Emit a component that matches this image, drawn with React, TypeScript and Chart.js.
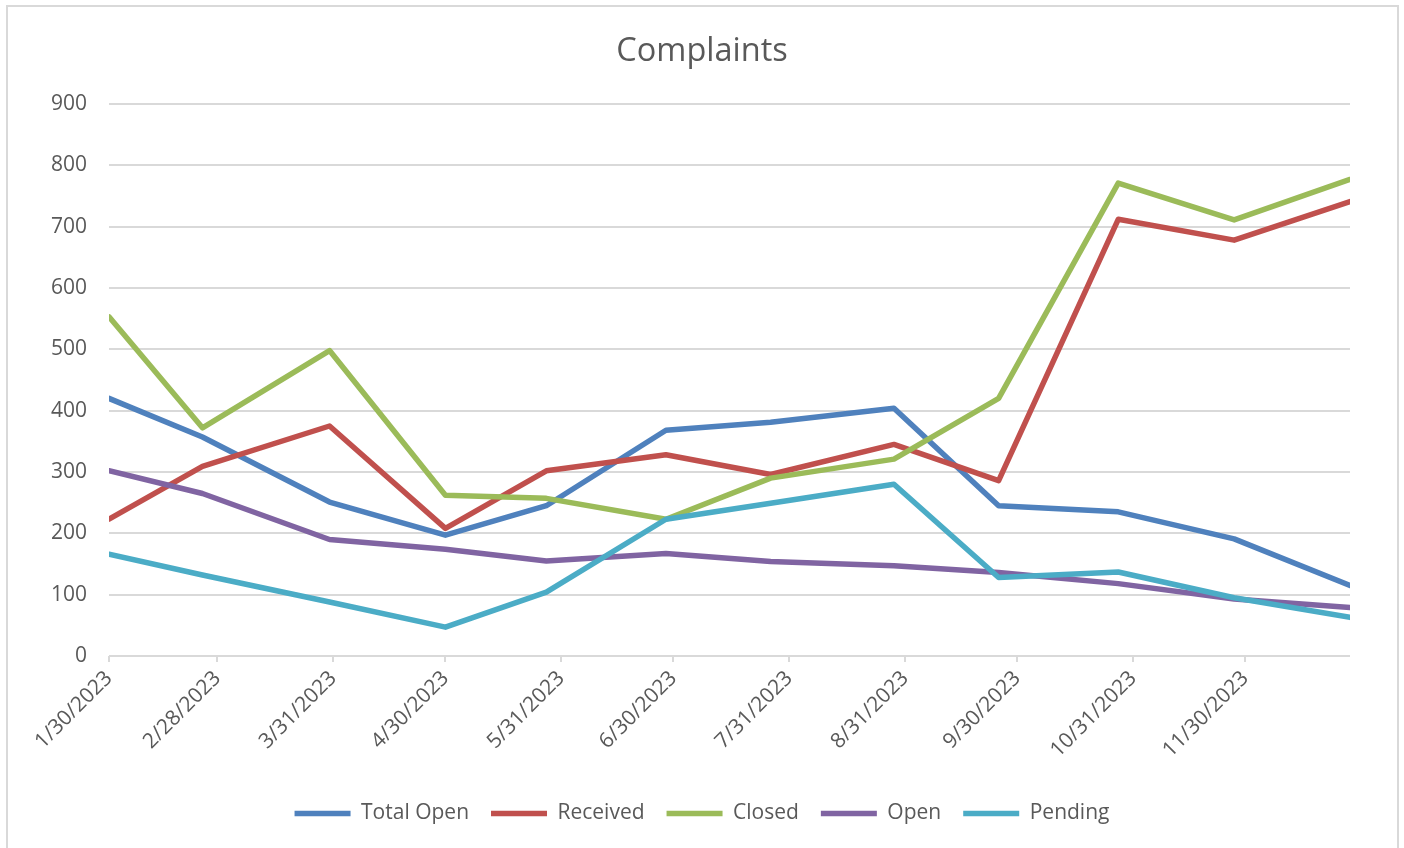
import React, { useEffect, useRef } from "react";
import { Chart, registerables } from "chart.js";

Chart.register(...registerables);

const pointDates = ["1/30/2023", "2/24/2023", "3/30/2023", "4/30/2023", "5/27/2023", "6/28/2023", "7/26/2023", "8/28/2023", "9/25/2023", "10/27/2023", "11/27/2023", "12/28/2023"];
const tickLabels = ["1/30/2023", "2/28/2023", "3/31/2023", "4/30/2023", "5/31/2023", "6/30/2023", "7/31/2023", "8/31/2023", "9/30/2023", "10/31/2023", "11/30/2023"];

const totalOpen = [420, 357, 251, 197, 245, 368, 381, 404, 245, 235, 191, 115];
const received = [223, 309, 375, 208, 302, 328, 296, 345, 286, 712, 678, 741];
const closed = [553, 372, 498, 262, 257, 223, 290, 321, 420, 771, 711, 777];
const openVals = [302, 265, 190, 174, 155, 167, 154, 147, 136, 118, 93, 79];
const pending = [166, 132, 88, 47, 104, 223, 249, 280, 128, 137, 95, 63];

const seriesNames = ["Total Open", "Received", "Closed", "Open", "Pending"];
const seriesColors = ["#4F81BD", "#C0504D", "#9BBB59", "#8064A2", "#4BACC6"];
const yTicks = [0, 100, 200, 300, 400, 500, 600, 700, 800, 900];

const toDay = (s: string) => {
  const [m, d, y] = s.split("/").map(Number);
  return Date.UTC(y, m - 1, d) / 86400000;
};

const FONT = "'Open Sans', sans-serif";
const TXT = "#595959";
const GRID = "#D9D9D9";

const borderPlugin = {
  id: "frame",
  beforeDraw(chart: any) {
    const ctx = chart.ctx;
    ctx.save();
    ctx.fillStyle = "#ffffff";
    ctx.fillRect(0, 0, chart.width, chart.height);
    ctx.strokeStyle = GRID;
    ctx.lineWidth = 2;
    ctx.beginPath();
    ctx.moveTo(7, chart.height + 5);
    ctx.lineTo(7, 6);
    ctx.lineTo(1398, 6);
    ctx.lineTo(1398, chart.height + 5);
    ctx.stroke();
    ctx.restore();
  },
};

export default function App() {
  const ref = useRef<HTMLCanvasElement | null>(null);

  useEffect(() => {
    if (!ref.current) return;
    const all = [totalOpen, received, closed, openVals, pending];
    const days = pointDates.map(toDay);
    const chart = new Chart(ref.current, {
      type: "line",
      data: {
        datasets: all.map((vals, i) => ({
          label: seriesNames[i],
          data: vals.map((v, j) => ({ x: days[j], y: v })),
          borderColor: seriesColors[i],
          backgroundColor: seriesColors[i],
          borderWidth: 5.5,
          borderCapStyle: "round",
          borderJoinStyle: "round",
          pointRadius: 0,
          tension: 0,
          fill: false,
          order: 5 - i,
        })),
      },
      options: {
        animation: false,
        responsive: false,
        devicePixelRatio: 1,
        layout: { padding: { left: 0, right: 0, top: 0, bottom: 14 } },
        plugins: {
          tooltip: { enabled: false },
          title: {
            display: true,
            text: "Complaints",
            color: TXT,
            font: { family: FONT, size: 32.5, weight: "normal", lineHeight: 1.2 },
            padding: { top: 32, bottom: 33 },
          },
          legend: {
            position: "bottom",
            labels: {
              usePointStyle: true,
              pointStyle: "line",
              pointStyleWidth: 56,
              padding: 22,
              color: TXT,
              font: { family: FONT, size: 21 },
              sort: (a: any, b: any) => a.datasetIndex - b.datasetIndex,
            },
          },
        },
        scales: {
          x: {
            type: "linear",
            min: days[0],
            max: days[days.length - 1],
            afterBuildTicks: (scale: any) => {
              scale.ticks = tickLabels.map((l) => ({ value: toDay(l) }));
            },
            afterFit: (scale: any) => {
              scale.height = 125;
              scale.paddingRight = 54;
            },
            grid: {
              display: true,
              drawOnChartArea: false,
              drawTicks: true,
              tickLength: 6,
              color: GRID,
              lineWidth: 2,
            },
            border: { display: false },
            ticks: {
              autoSkip: false,
              maxRotation: 45,
              minRotation: 45,
              padding: 4,
              color: TXT,
              font: { family: FONT, size: 21 },
              callback: (value: any) => {
                const idx = tickLabels.findIndex((l) => toDay(l) === value);
                return idx >= 0 ? tickLabels[idx] : "";
              },
            },
          },
          y: {
            min: 0,
            max: 900,
            afterBuildTicks: (scale: any) => {
              scale.ticks = yTicks.map((v) => ({ value: v }));
            },
            afterFit: (scale: any) => {
              scale.width = 109;
            },
            grid: { color: GRID, lineWidth: 2, drawTicks: false },
            border: { display: false },
            ticks: {
              padding: 22,
              color: TXT,
              font: { family: FONT, size: 21 },
            },
          },
        },
      },
      plugins: [borderPlugin],
    } as any);
    return () => chart.destroy();
  }, []);

  return (
    <div
      style={{
        position: "fixed",
        left: 0,
        top: 0,
        width: 1404,
        height: 848,
        overflow: "hidden",
        background: "#fff",
      }}
    >
      <canvas ref={ref} width={1404} height={848} style={{ display: "block" }} />
    </div>
  );
}
